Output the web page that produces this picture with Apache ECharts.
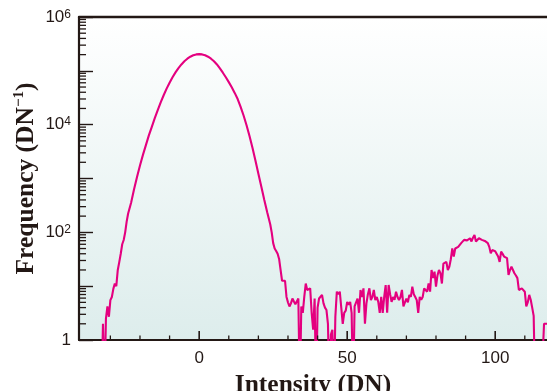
<!DOCTYPE html>
<html><head><meta charset="utf-8">
<script src="https://cdn.jsdelivr.net/npm/echarts/dist/echarts.min.js"></script>
<style>html,body{margin:0;padding:0;background:#fff}#chart{width:547px;height:391px}</style>
</head><body><div id="chart"></div>
<script>
// Histogram bins (DN) and frequency (DN^-1); 0 = empty bin
const intensity = [
  -40,-39,-38,-37,-36,-35,-34,-33.5,-33,-32.5,-32,-31.5,-31,-30.5,-30,-29.5,-29,-28.5,-28,-27.5,-27,-26.5,-26,-25.5,-25,-24.5,
  -24,-23,-22,-21,-20,-19,-18,-17,-16,-15,-14,-13,-12,-11,-10,-9,-8,-7,-6,-5,-4,-3,-2,-1,
  0,1,2,3,4,5,6,7,8,9,10,11,12,13,14,15,16,17,18,19,20,21,22,23,24,
  24.5,25,25.5,26,26.5,27,27.5,28,28.5,29,
  29.5,30,30.5,31,31.5,32,32.5,33,33.5,34,
  34.5,35,35.5,36,36.5,37,37.5,38,38.5,39,
  39.5,40,40.5,41,41.5,42,42.5,43,43.5,44,
  44.5,45,45.5,46,46.5,47,47.5,48,48.5,49,
  49.5,50,50.5,51,51.5,52,52.5,53,53.5,54,
  54.5,55,55.5,56,56.5,57,57.5,58,58.5,59,
  59.5,60,60.5,61,61.5,62,62.5,63,63.5,64,
  64.5,65,65.5,66,66.5,67,67.5,68,68.5,69,
  69.5,70,70.5,71,71.5,72,72.5,73,73.5,74,
  74.5,75,75.5,76,76.5,77,77.5,78,78.5,79,
  79.5,80,80.5,81,81.5,82,82.5,83,83.5,84,
  84.5,85,85.5,86,86.5,87,87.5,88,88.5,89,
  89.5,90,90.5,91,91.5,92,92.5,93,93.5,94,
  94.5,95,95.5,96,96.5,97,97.5,98,98.5,99,
  99.5,100,100.5,101,101.5,102,102.5,103,103.5,104,
  104.5,105,105.5,106,106.5,107,107.5,108,108.5,109,
  109.5,110,110.5,111,111.5,112,112.5,113,113.5,114,
  114.5,115,115.5,116,116.5,117,117.5,118
];
const frequency = [
  0,0,0,0,0,0,0,0,0,2.0,0,2.5,4.2,2.7,5.5,6.3,8.9,11.2,10,20,28,40,60,72,100,158,
  224,355,631,1070,1740,2750,4170,6310,9120,13200,18600,25900,35200,46700,60300,76000,93500,112200,131500,150700,167900,182800,194500,201800,
  204000,201800,194500,182800,167900,150700,131500,110900,92300,75900,61700,49500,38900,29900,21400,14800,9770,6170,3720,2160,1230,700,398,234,141,
  100,63,50,45,40,32,20,12.6,12,12.6,
  6.3,5.0,4.2,4.8,5.9,5.2,4.6,5.0,5.9,0,
  4.2,3.2,6.3,11.2,8.5,8.5,9.1,3.2,1.55,5.9,
  0,4.0,5.9,6.3,6.9,4.8,4.0,3.6,2.0,0,
  1.26,1.55,0,2.7,7.9,7.1,7.9,4.0,2.0,3.2,
  3.5,5.1,4.5,5.1,3.2,0,4.2,4.0,5.9,3.2,
  8.5,6.3,9.1,2.0,4.8,7.1,9.1,5.5,6.3,8.5,
  5.5,6.3,5.1,3.2,6.3,3.2,6.3,10.5,3.2,10.5,
  7.1,5.1,6.3,5.6,7.9,6.3,5.5,6.3,8.5,4.2,
  5.0,5.9,5.0,6.9,6.3,9.8,7.1,6.3,5.5,3.2,
  6.3,5.6,6.3,9.1,8.5,7.9,11.2,7.9,20,14.1,
  18.6,9.8,15.8,20,17.4,11.2,26.3,25,28.2,20,
  22.9,31.6,50.1,35.5,50.1,52.5,53.7,57.5,63.1,60.3,
  72.4,69.2,70.8,67.6,77.6,67.6,79.4,89.1,67.6,70.8,
  77.6,74.1,72.4,70.8,69.2,67.6,63.1,53.7,40.7,46.8,
  45.7,44.7,43.7,35.5,28.2,43.7,39.8,35.5,36.3,33.1,
  16.2,20,22.9,20,17.4,15.8,14.1,8.5,8.9,9.1,
  8.5,7.9,4.2,5.0,6.9,5.6,4.0,2.8,0,0,
  0,0,0,0,2,2,2,2
];
const xLabelValues = [0, 50, 100];
const xMinorTickValues = [-30, -20, -10, 10, 20, 30, 40, 60, 70, 80, 90, 110];
const yLabelExponents = [0, 2, 4, 6];
const yDecades = [1, 10, 100, 1000, 10000, 100000];
const yMinorMultipliers = [2, 3, 4, 5, 6, 7, 8, 9];

const X_MIN = -40.6, X_MAX = 117.5, Y_MIN = 1, Y_MAX = 1e6;
const EMPTY_BIN = 0.1; // drawn below the axis floor, clipped
const INK = '#231815';
const SANS = '"Liberation Sans", Arial, Helvetica, sans-serif';
const SERIF = '"Liberation Serif", "Times New Roman", Times, serif';

const n = Math.min(intensity.length, frequency.length);
const lineData = [];
for (let i = 0; i < n; i++) lineData.push([intensity[i], frequency[i] > 0 ? frequency[i] : EMPTY_BIN]);

const yMinorTicks = [];
yDecades.forEach(d => yMinorMultipliers.forEach(m => yMinorTicks.push([X_MIN, d * m])));
const xTicks = xMinorTickValues.map(v => [v, Y_MIN, 4.5]).concat(xLabelValues.map(v => [v, Y_MIN, 9]));

const chart = echarts.init(document.getElementById('chart'), null, {renderer: 'canvas'});
chart.setOption({
  animation: false,
  backgroundColor: '#ffffff',
  grid: {
    left: 79, right: 0, top: 17, bottom: 51, show: true, borderWidth: 0,
    outerBoundsMode: 'none', containLabel: false,
    backgroundColor: new echarts.graphic.LinearGradient(0, 0, 0, 1, [
      {offset: 0, color: '#ffffff'},
      {offset: 1, color: '#ddedec'}
    ])
  },
  xAxis: [{
    type: 'value', min: X_MIN, max: X_MAX, splitNumber: 3, position: 'bottom',
    axisLine: {show: true, onZero: false, lineStyle: {color: INK, width: 2.2}},
    axisTick: {show: false},
    splitLine: {show: false},
    axisLabel: {
      margin: 10, color: INK, fontSize: 17, fontFamily: SANS,
      showMinLabel: false, showMaxLabel: false,
      formatter: v => (xLabelValues.indexOf(Math.round(v * 1000) / 1000) >= 0 ? String(v) : '')
    },
    name: 'Intensity (DN)', nameLocation: 'middle', nameGap: 32, nameMoveOverlap: false,
    nameTextStyle: {color: INK, fontFamily: SERIF, fontWeight: 'bold', fontSize: 25.5}
  }, {
    type: 'value', min: X_MIN, max: X_MAX, position: 'top',
    axisLine: {show: true, onZero: false, lineStyle: {color: INK, width: 2.4}},
    axisTick: {show: false}, axisLabel: {show: false}, splitLine: {show: false}
  }],
  yAxis: {
    type: 'log', logBase: 10, min: Y_MIN, max: Y_MAX,
    axisLine: {show: true, onZero: false, lineStyle: {color: INK, width: 2.2}},
    axisTick: {show: true, inside: true, length: 14, lineStyle: {color: INK, width: 1.4}},
    splitLine: {show: false},
    axisLabel: {
      margin: 8, color: INK, fontFamily: SANS,
      formatter: v => {
        const e = Math.round(Math.log10(v));
        if (yLabelExponents.indexOf(e) < 0) return '';
        if (e === 0) return '{b|1}';
        return '{b|10}{s|' + e + '}';
      },
      rich: {
        b: {fontSize: 17, lineHeight: 17, padding: [1, 0, 0, 0], verticalAlign: 'bottom', color: INK, fontFamily: SANS},
        s: {fontSize: 12, lineHeight: 12, verticalAlign: 'top', color: INK, fontFamily: SANS}
      }
    },
    name: '{n|Frequency (DN}{s|\u22121}{n|)}',
    nameLocation: 'middle', nameRotate: 90, nameGap: 40, nameMoveOverlap: false,
    nameTextStyle: {
      color: INK,
      rich: {
        n: {fontSize: 25.5, lineHeight: 27, fontWeight: 'bold', fontFamily: SERIF, color: INK, verticalAlign: 'bottom'},
        s: {fontSize: 15, lineHeight: 15, fontWeight: 'bold', fontFamily: SERIF, color: INK, verticalAlign: 'top'}
      }
    }
  },
  series: [{
    type: 'line', data: lineData, showSymbol: false, symbol: 'none', clip: true, z: 3,
    lineStyle: {color: '#e4007f', width: 2.1}
  }, {
    type: 'custom', silent: true, z: 4, clip: false,
    data: yMinorTicks,
    renderItem: (params, api) => {
      const p = api.coord([api.value(0), api.value(1)]);
      return {type: 'line', shape: {x1: p[0], y1: p[1], x2: p[0] + 7, y2: p[1]}, style: {stroke: INK, lineWidth: 1.3}};
    }
  }, {
    type: 'custom', silent: true, z: 4, clip: false,
    data: xTicks,
    renderItem: (params, api) => {
      const p = api.coord([api.value(0), api.value(1)]);
      const len = api.value(2);
      return {type: 'line', shape: {x1: p[0], y1: p[1], x2: p[0], y2: p[1] - len}, style: {stroke: INK, lineWidth: len > 5 ? 1.6 : 1.3}};
    }
  }]
});
</script></body></html>
